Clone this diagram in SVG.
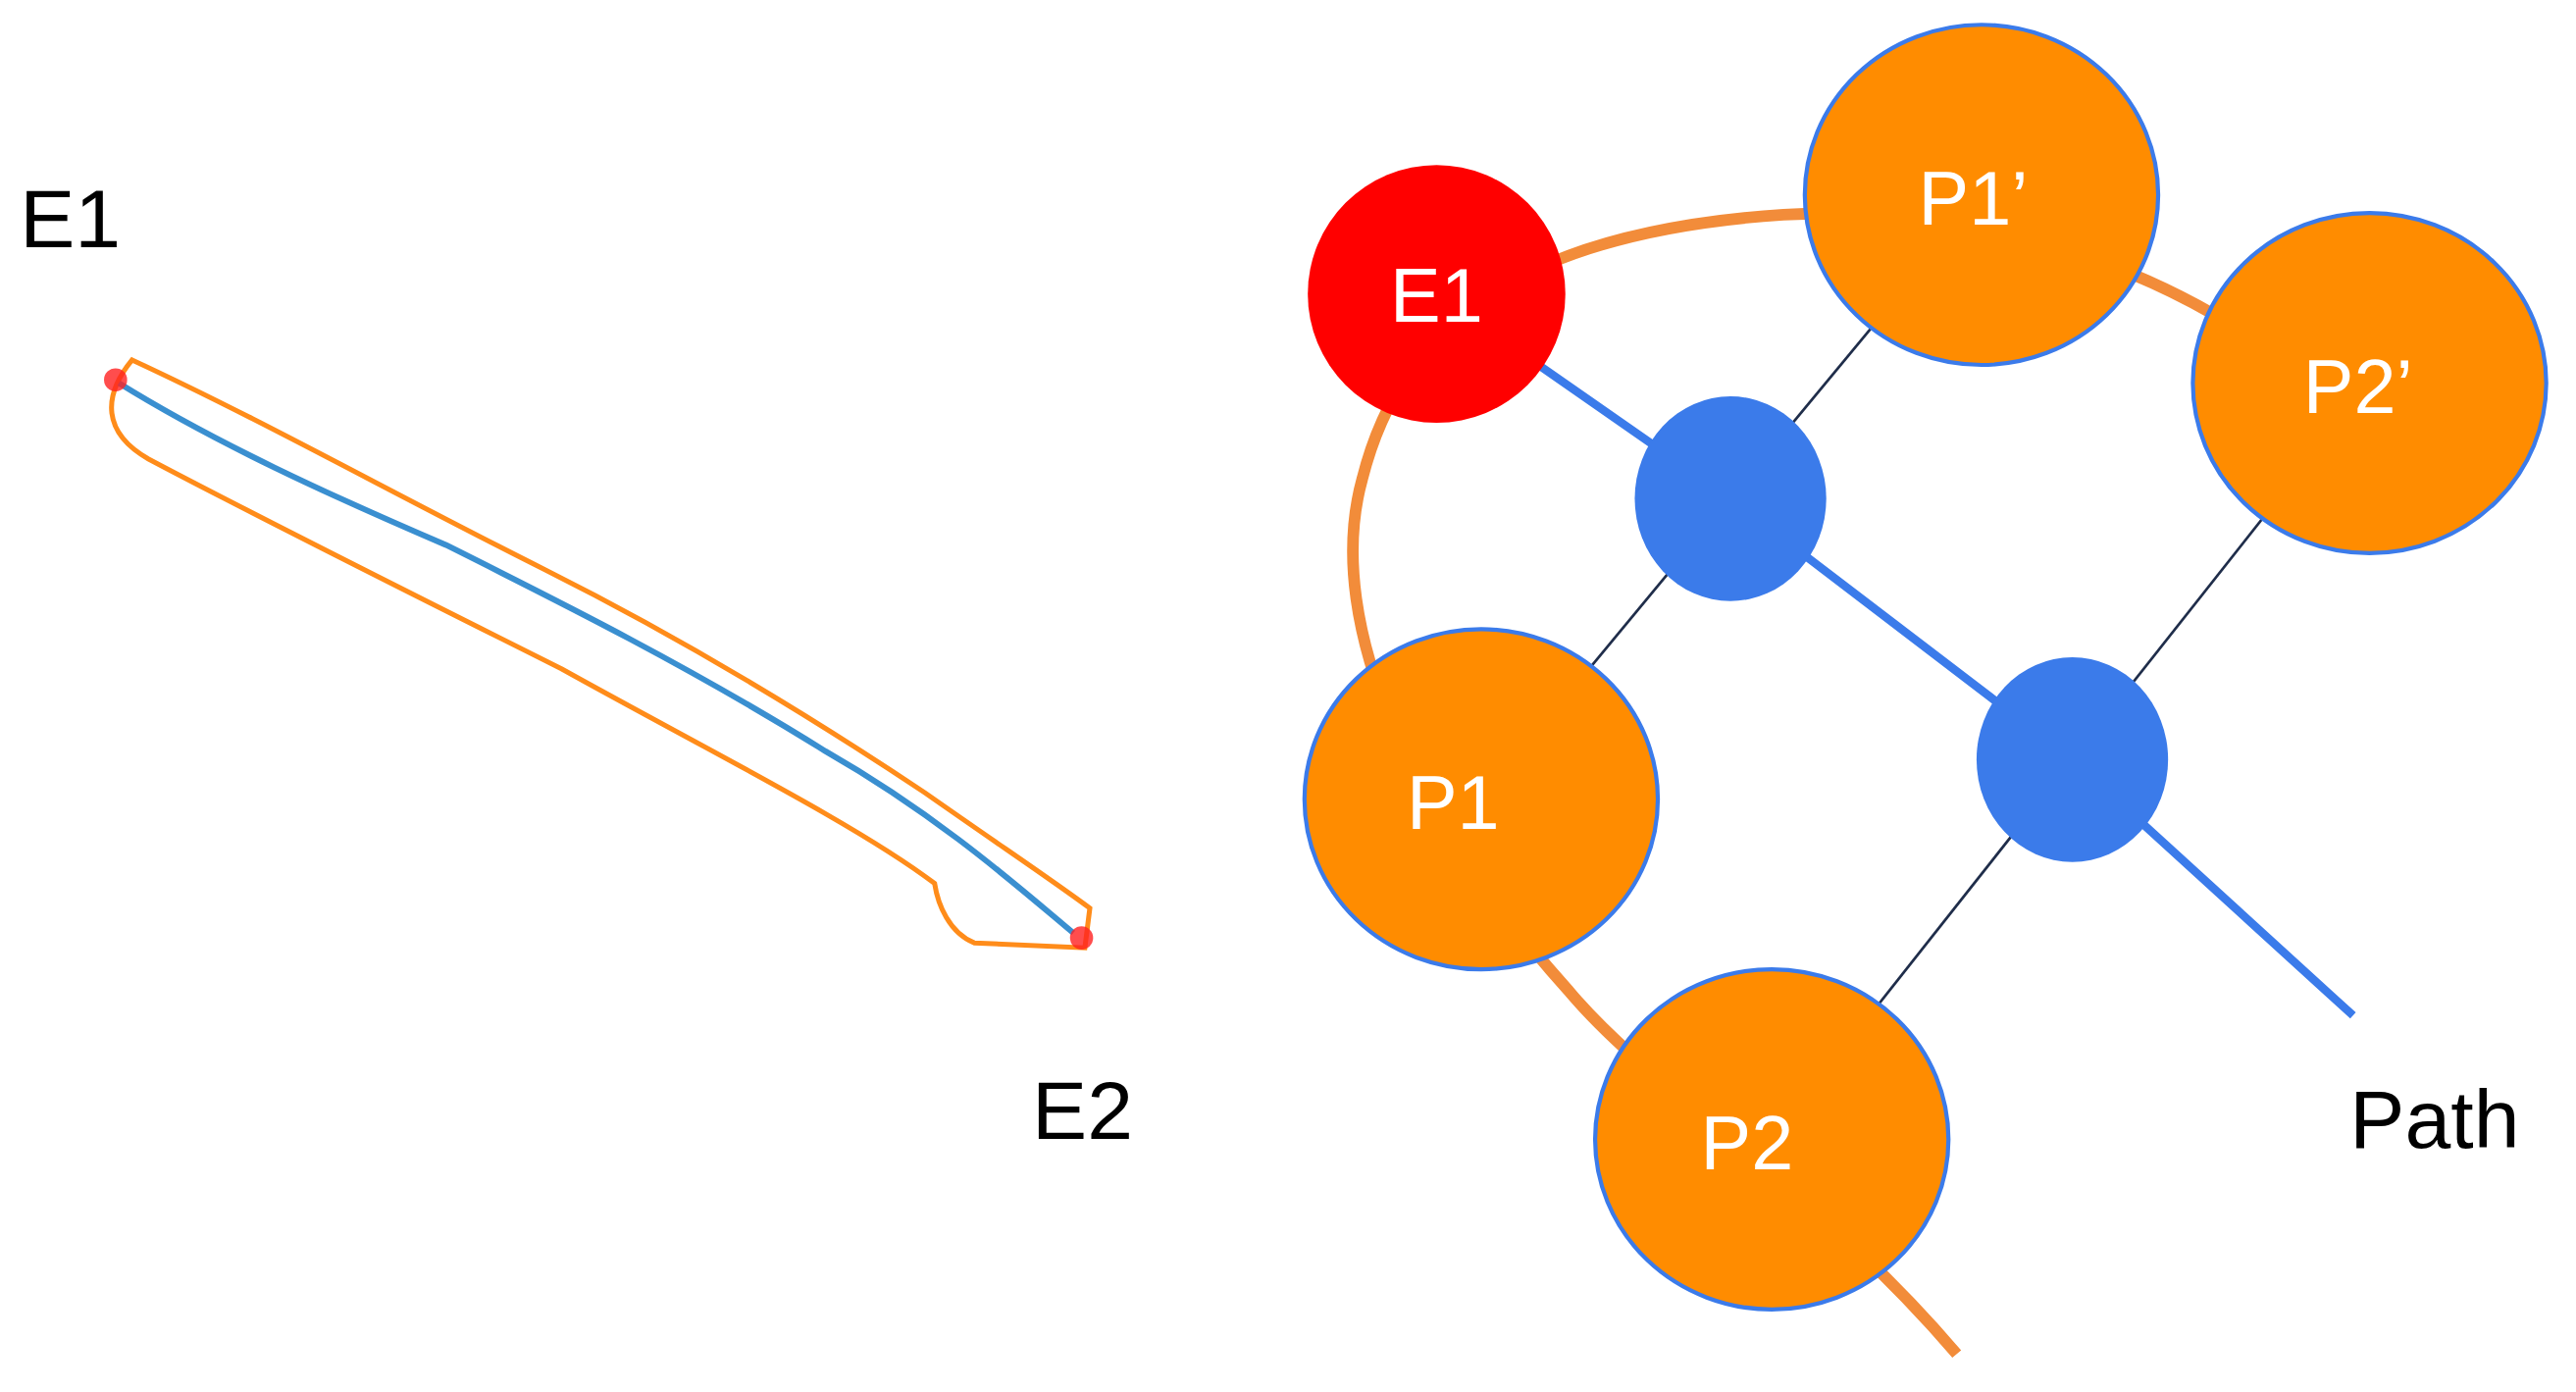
<svg xmlns="http://www.w3.org/2000/svg" width="2626" height="1419" viewBox="0 0 2626 1419">
<style>
.lbl{font-family:"Liberation Sans",Arial,sans-serif;font-size:50px;fill:#000}
.nl{font-family:"Liberation Sans",Arial,sans-serif;font-size:46px;fill:#fff;text-anchor:middle}
.org{fill:#FF8C00;stroke:#3B7BEA;stroke-width:2.5}
.blue{fill:#3B7BEA}
.thin{stroke:#1F2D4A;stroke-width:1.6;fill:none}
</style>
<rect width="2626" height="1419" fill="#fff"/>
<g transform="scale(1.6833)">
<g id="left">
<path d="M80,218 C160,255 240,300 330,345 C420,390 500,440 560,480 C610,515 640,535 660,550 L657,574 L590,571 C575,565 568,548 566,535 C520,500 430,455 340,405 C250,360 160,315 90,278 C62,262 62,240 80,218 Z" fill="none" stroke="#FF8C1A" stroke-width="3"/>
<path d="M72,232 C130,268 200,300 270,330 C340,365 420,405 500,455 C570,495 620,540 650,565" fill="none" stroke="#3A8FD0" stroke-width="3.5"/>
<circle cx="70" cy="230" r="7" fill="#FF2020" opacity="0.8"/>
<circle cx="655" cy="568" r="7" fill="#FF2020" opacity="0.8"/>
<text class="lbl" x="12" y="150">E1</text>
<text class="lbl" x="625" y="690">E2</text>
</g>
<g id="connectors">
<path d="M1185,820 C1100,720 1000,660 950,600 C860,500 800,380 825,290 C850,190 930,140 1080,130 C1180,125 1270,150 1340,190" fill="none" stroke="#F28C3A" stroke-width="7"/>
<polyline points="870,178 1048,302 1255,460 1425,615" fill="none" stroke="#3B7BEA" stroke-width="5"/>
<line class="thin" x1="1200" y1="118" x2="897" y2="484"/>
<line class="thin" x1="1435" y1="232" x2="1073" y2="690"/>
</g>
<g id="E1"><circle cx="870" cy="178" r="78" fill="#FF0000"/><text class="nl" x="870" y="195">E1</text></g>
<g id="P1p"><ellipse class="org" cx="1200" cy="118" rx="107" ry="103"/><text class="nl" x="1195" y="136">P1’</text></g>
<g id="P2p"><ellipse class="org" cx="1435" cy="232" rx="107" ry="103"/><text class="nl" x="1428" y="250">P2’</text></g>
<g id="B1"><ellipse class="blue" cx="1048" cy="302" rx="58" ry="62"/></g>
<g id="B2"><ellipse class="blue" cx="1255" cy="460" rx="58" ry="62"/></g>
<g id="P1"><ellipse class="org" cx="897" cy="484" rx="107" ry="103"/><text class="nl" x="880" y="502">P1</text></g>
<g id="P2"><ellipse class="org" cx="1073" cy="690" rx="107" ry="103"/><text class="nl" x="1058" y="708">P2</text></g>
<text class="lbl" x="1423" y="695">Path</text>
</g>
</svg>
